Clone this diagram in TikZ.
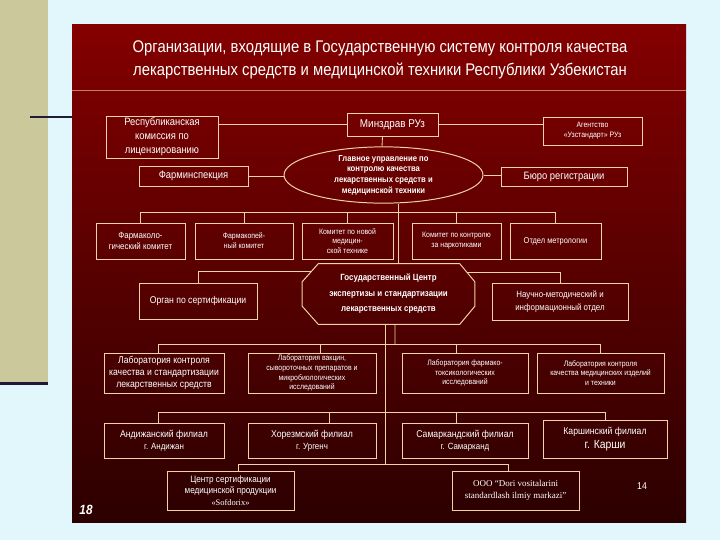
\documentclass[tikz,border=0pt]{standalone}
\usepackage{fontspec}
\setmainfont{Liberation Sans}[FakeStretch=0.88]
\newfontfamily\uzserif{Liberation Serif}
\usepackage{tikz}
\usetikzlibrary{shapes.geometric, calc}
\definecolor{uzSky}{HTML}{E1F7FC}
\definecolor{uzKhaki}{HTML}{CBC99C}
\definecolor{uzNavy}{HTML}{231A36}
\definecolor{uzRed}{HTML}{840000}
\definecolor{uzDark}{HTML}{2C0000}
\definecolor{uzLine}{HTML}{F2D3A6}
\definecolor{uzRule}{HTML}{C97A62}
\definecolor{uzText}{HTML}{FFFFFF}

\begin{document}
\begin{tikzpicture}[
    x=0.025cm, y=-0.025cm,
    orgbox/.style={draw=uzLine, rectangle, line width=0.7pt, align=center, inner sep=1pt, text=uzText, font=\fontsize{7}{8.6}\selectfont},
    boxsize/.style 2 args={minimum width=#1*0.025cm, minimum height=#2*0.025cm},
    smalltext/.style={font=\fontsize{5.6}{7}\selectfont},
    ovalbox/.style={draw=uzLine, ellipse, line width=0.7pt, align=center, inner sep=0pt, text=uzText, font=\bfseries\fontsize{6.2}{7.6}\selectfont},
    octtext/.style={rectangle, align=center, inner sep=0pt, text=uzText, font=\bfseries\fontsize{6.4}{11}\selectfont},
    link/.style={draw=uzLine, line width=0.6pt}
]
\useasboundingbox (0,0) rectangle (720,540);

% slide background
\fill[uzSky] (0,0) rectangle (720,540);
\fill[uzKhaki] (0,0) rectangle (48,385);
\fill[uzNavy] (0,382) rectangle (48,385);
\fill[uzNavy] (30,116) rectangle (72,118);
\shade[top color=uzRed, middle color=uzRed!85!uzDark, bottom color=uzDark] (72,24) rectangle (686,522);
\draw[uzRule, line width=0.6pt] (72,90) -- (686,90);

\node (title) [text=uzText, align=center, font=\fontsize{12}{16}\selectfont] at (380,60)
    {Организации, входящие в Государственную систему контроля качества\\лекарственных средств и медицинской техники Республики Узбекистан};

% top level
\node (respcom) [orgbox, boxsize={112}{42}, font=\fontsize{7.6}{10}\selectfont] at (162,137) {Республиканская\\комиссия по\\лицензированию};
\node (minzdrav) [orgbox, boxsize={91}{23}, font=\fontsize{8}{9}\selectfont] at (392.5,124.5) {Минздрав РУз};
\node (agency) [orgbox, boxsize={99}{28}, smalltext] at (592.5,131) {Агентство\\«Узстандарт» РУз};
\node (glavupr) [ovalbox, boxsize={199}{54}] at (383.5,175) {Главное управление по\\контролю качества\\лекарственных средств и\\медицинской техники};
\node (farminsp) [orgbox, boxsize={109}{20}, font=\fontsize{7.6}{9}\selectfont] at (193.5,176) {Фарминспекция};
\node (buro) [orgbox, boxsize={126}{19}, font=\fontsize{7.6}{9}\selectfont] at (564,177) {Бюро регистрации};

% committees
\node (pharmcom) [orgbox, boxsize={89}{36}, font=\fontsize{6.4}{8.4}\selectfont] at (140.5,241) {Фармаколо-\\гический комитет};
\node (pharmacop) [orgbox, boxsize={98}{36}, smalltext] at (244,241) {Фармакопей-\\ный комитет};
\node (newtech) [orgbox, boxsize={91}{36}, smalltext] at (347.5,241) {Комитет по новой\\медицин-\\ской технике};
\node (narcot) [orgbox, boxsize={89}{36}, smalltext] at (456.5,241) {Комитет по контролю\\за наркотиками};
\node (metrol) [orgbox, boxsize={91}{36}, font=\fontsize{6}{7.5}\selectfont] at (555.5,241) {Отдел метрологии};

% state centre (octagon drawn round its text node)
\node (gcenter) [octtext, boxsize={172}{60}] at (388.5,294) {Государственный Центр\\экспертизы и стандартизации\\лекарственных средств};
\draw [link, line width=0.7pt] ($(gcenter.north west)+(16,0)$) -- ($(gcenter.north east)+(-15,0)$)
    -- ($(gcenter.north east)+(0,18)$) -- ($(gcenter.south east)+(0,-18)$)
    -- ($(gcenter.south east)+(-15,0)$) -- ($(gcenter.south west)+(16,0)$)
    -- ($(gcenter.south west)+(0,-18)$) -- ($(gcenter.north west)+(0,18)$) -- cycle;
\node (certorg) [orgbox, boxsize={118}{36}] at (198,301) {Орган по сертификации};
\node (infodept) [orgbox, boxsize={136}{37}, font=\fontsize{6.4}{9}\selectfont] at (560,301.5) {Научно-методический и\\информационный отдел};

% laboratories
\node (labqual) [orgbox, boxsize={120}{40}] at (164,373) {Лаборатория контроля\\качества и стандартизации\\лекарственных средств};
\node (labvacc) [orgbox, boxsize={128}{40}, smalltext] at (312,373) {Лаборатория вакцин,\\сывороточных препаратов и\\микробиологических\\исследований};
\node (labtox) [orgbox, boxsize={126}{40}, smalltext] at (465,373) {Лаборатория фармако-\\токсикологических\\исследований};
\node (labmed) [orgbox, boxsize={127}{40}, smalltext] at (600.5,373) {Лаборатория контроля\\качества медицинских изделий\\и техники};

% branches
\node (andij) [orgbox, boxsize={120}{35}] at (164,440.5) {Андижанский филиал\\{\fontsize{6.4}{8}\selectfont г. Андижан}};
\node (khorezm) [orgbox, boxsize={128}{35}] at (312,440.5) {Хорезмский филиал\\{\fontsize{6.4}{8}\selectfont г. Ургенч}};
\node (samark) [orgbox, boxsize={126}{35}] at (465,440.5) {Самаркандский филиал\\{\fontsize{6.4}{8}\selectfont г. Самарканд}};
\node (karshi) [orgbox, boxsize={124}{38}, font=\fontsize{7}{10}\selectfont] at (605,439) {Каршинский филиал\\{\fontsize{8.4}{10}\selectfont г. Карши}};

% certification bodies
\node (certmed) [orgbox, boxsize={127}{39}, font=\fontsize{6.6}{8.4}\selectfont] at (230.5,490.5) {Центр сертификации\\медицинской продукции\\{\uzserif\fontsize{6}{8}\selectfont «Sofdorix»}};
\node (ooo) [orgbox, boxsize={127}{39}, font=\uzserif\fontsize{6.4}{8.8}\selectfont] at (515.5,490.5) {ООО “Dori vositalarini\\standardlash ilmiy markazi”};

% page numbers
\node (pagea) [text=uzText, font=\bfseries\itshape\fontsize{9.5}{11}\selectfont] at (86,510) {18};
\node (pageb) [text=uzText, font=\fontsize{7}{8}\selectfont] at (642,486) {14};

% connectors of the top level
\draw [link] (respcom.east |- minzdrav.west) -- (minzdrav.west);
\draw [link] (minzdrav.east) -- (agency.west |- minzdrav.east);
\draw [link] ($(minzdrav.south)+(-10,0)$) -- ($(glavupr.north)+(-1.5,0)$);
\draw [link] (farminsp.east) -- (glavupr.west |- farminsp.east);
\draw [link] (glavupr.east) -- (buro.west |- glavupr.east);

% committee bus and trunk
\draw [link] (pharmcom.north) -- ++(0,-10) -| (metrol.north);
\foreach \n in {pharmacop, newtech, narcot}
    \draw [link] (\n.north) -- ++(0,-10);
\draw [link] ($(glavupr.south)+(14.5,0)$) coordinate (trunk) -- (trunk |- gcenter.north);

\draw [link] (certorg.north) |- ($(gcenter.north west)+(9,8)$);
\draw [link] (infodept.north) |- ($(gcenter.north east)+(-7.5,9)$);

% laboratory bus
\draw [link] ($(labqual.north)+(-6,0)$) -- ++(0,-8) -| (labmed.north);
\draw [link] ($(labvacc.north)+(8,0)$) -- ++(0,-8);
\draw [link] ($(labtox.north)+(-9,0)$) -- ++(0,-8);
\draw [link] ($(gcenter.south)+(6.5,0)$) -- ($(labtox.north)+(-70,-8)$);

% branch bus
\draw [link] ($(andij.north)+(-6,0)$) -- ++(0,-10) -| (karshi.north);
\draw [link] ($(khorezm.north)+(17,0)$) -- ++(0,-10);
\draw [link] ($(samark.north)+(-9,0)$) -- ++(0,-10);

% bottom bus
\draw [link] ($(gcenter.south)+(-3.5,0)$) coordinate (lowtrunk) -- (lowtrunk |- 0,465);
\draw [link] ($(certmed.north)+(7.5,0)$) -- ++(0,-6) -| ($(ooo.north)+(-7.5,0)$);
\end{tikzpicture}
\end{document}
